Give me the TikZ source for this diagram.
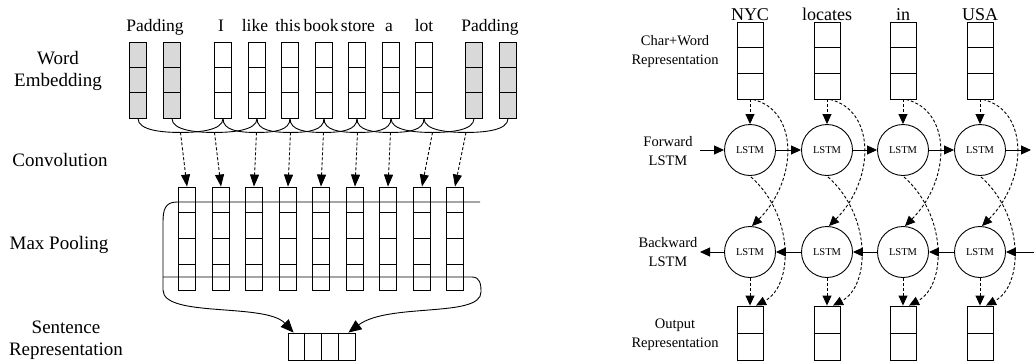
\documentclass[tikz,border=0pt]{standalone}
\usepackage{fontspec}
\setmainfont{Liberation Serif}
\usepackage{tikz}
\usetikzlibrary{arrows.meta,positioning,calc}
\definecolor{padgray}{RGB}{217,217,217}
\tikzset{
  vec/.style={draw,line width=0.9pt,inner sep=0pt,minimum width=17pt},
  embcol/.style={vec,minimum height=76pt},
  padcol/.style={embcol,fill=padgray},
  convcol/.style={vec,minimum height=103pt},
  reprcol/.style={vec,minimum width=26pt,minimum height=77pt},
  outcol/.style={vec,minimum width=26pt,minimum height=54pt},
  sentbox/.style={vec,minimum width=67pt,minimum height=27pt},
  lstm/.style={draw,circle,line width=0.9pt,minimum size=51pt,inner sep=0pt,
    font=\fontsize{10.5}{12}\selectfont},
  word/.style={anchor=base,font=\fontsize{17.5}{21}\selectfont},
  rowlabel/.style={align=center,font=\fontsize{19}{22}\selectfont},
  sidelabel/.style={align=center,font=\fontsize{14.5}{19}\selectfont},
  divider/.style={line width=0.9pt},
  window/.style={line width=0.9pt},
  feed/.style={line width=0.9pt,dash pattern=on 3pt off 2pt,-{Triangle[length=12pt,width=9pt]}},
  pool/.style={line width=0.9pt,-{Triangle[length=13pt,width=11pt]}},
  flow/.style={line width=0.9pt,-{Triangle[length=10pt,width=9pt]}},
  skip/.style={line width=0.9pt,dash pattern=on 3pt off 2pt,-{Triangle[length=10pt,width=9pt]}}
}

\begin{document}
\begin{tikzpicture}[x=1pt,y=-1pt]
  \useasboundingbox (0,0) rectangle (1034,362);

  % ---- left: CNN sentence encoder ----
  \node[rowlabel] (l-emb) at (58,71) {Word\\Embedding};
  \node[rowlabel] (l-conv) at (60,160) {Convolution};
  \node[rowlabel] (l-pool) at (59,245) {Max Pooling};
  \node[rowlabel] (l-sent) at (66,340) {Sentence\\Representation};

  \node[word] (t-pad1) at (155,31) {Padding};
  \foreach \w/\x in {I/221,like/255,this/288,book/321,store/358,a/389,lot/424}
    \node[word] (t-\w) at (\x,31) {\w};
  \node[word] (t-pad2) at (490,31) {Padding};

  \foreach \i/\x in {1/138,2/172,10/474,11/508}
    \node[padcol] (e\i) at (\x,80) {};
  \foreach \i/\x in {3/223,4/257,5/290,6/324,7/357,8/391,9/424}
    \node[embcol] (e\i) at (\x,80) {};
  \foreach \i in {1,...,11}
    \foreach \k in {1,2}
      \draw[divider] ($(e\i.north west)!\k/3!(e\i.south west)$) -- ($(e\i.north east)!\k/3!(e\i.south east)$);

  \foreach \i/\x in {1/187,2/221,3/254,4/288,5/321,6/355,7/388,8/422,9/455} {
    \node[convcol] (c\i) at (\x,238.5) {};
    \foreach \k in {1,2,3}
      \draw[divider] ($(c\i.north west)!\k/4!(c\i.south west)$) -- ($(c\i.north east)!\k/4!(c\i.south east)$);
  }

  % windows of three words
  \foreach \i [evaluate=\i as \j using int(\i+2)] in {1,...,9} {
    \coordinate (m\i) at ($(e\i.south)!0.5!(e\j.south)+(0,14)$);
    \draw[window] (e\i.south) .. controls +(0,12) and +(-18,0) .. (m\i)
      .. controls +(18,0) and +(0,12) .. (e\j.south);
    \draw[feed] (m\i) -- (c\i.north);
  }

  % max pooling
  \node[sentbox] (s) at (321.5,346.5) {};
  \foreach \k in {1,2,3}
    \draw[divider] ($(s.north west)!\k/4!(s.north east)$) -- ($(s.south west)!\k/4!(s.south east)$);
  \coordinate (mp-tl) at (177,202);
  \coordinate (mp-tr) at (480,202);
  \coordinate (mp-bl) at (163,277);
  \coordinate (mp-br) at (472,277);
  \draw[pool] (mp-tr) -- (mp-tl) .. controls +(-12,0) and +(0,-12) .. (163,222) -- (163,290)
    .. controls +(0,28) and +(-28,-30) .. ($(s.north west)+(6,0)$);
  \draw[pool] (mp-bl) -- (mp-br) .. controls +(8,0) and +(0,-8) .. (481,292)
    .. controls +(0,26) and +(40,-30) .. ($(s.north east)+(-7,0)$);

  % ---- right: BiLSTM tagger ----
  \node[sidelabel] (l-repr) at (675,52) {Char+Word\\Representation};
  \node[sidelabel] (l-fwd) at (668,151) {Forward\\LSTM};
  \node[sidelabel] (l-bwd) at (668,252) {Backward\\LSTM};
  \node[sidelabel] (l-out) at (675,335) {Output\\Representation};

  \foreach \i/\x/\w in {1/750/NYC,2/827/locates,3/903/in,4/980/USA} {
    \node[word,font=\fontsize{18}{21}\selectfont] (n\i) at (\x,20) {\w};
    \node[reprcol] (r\i) at (\x,60.5) {};
    \foreach \k in {1,2}
      \draw[divider] ($(r\i.north west)!\k/3!(r\i.south west)$) -- ($(r\i.north east)!\k/3!(r\i.south east)$);
    \node[lstm] (f\i) at (\x,150) {LSTM};
    \node[lstm] (b\i) at (\x,252) {LSTM};
    \node[outcol] (o\i) at (\x,333) {};
    \draw[divider] (o\i.west) -- (o\i.east);
  }

  \coordinate (f-in) at (700,150);
  \coordinate (f-out) at (1031,150);
  \coordinate (b-in) at (1034,252);
  \coordinate (b-out) at (700,252);
  \draw[flow] (f-in) -- (f1);
  \foreach \i/\j in {1/2,2/3,3/4} {
    \draw[flow] (f\i) -- (f\j);
    \draw[flow] (b\j) -- (b\i);
  }
  \draw[flow] (f4) -- (f-out);
  \draw[flow] (b-in) -- (b4);
  \draw[flow] (b1) -- (b-out);

  \foreach \i in {1,...,4} {
    \draw[skip] (r\i.south) -- (f\i.north);
    \draw[skip] (b\i.south) -- (o\i.north);
    \draw[skip] ($(r\i.south)+(3,0)$) .. controls +(46,11) and +(46,-46) .. ($(b\i.north)+(2,0)$);
    \draw[skip] ($(f\i.south)+(1,1)$) .. controls +(43,38) and +(38,-20) .. ($(o\i.north)+(6,0)$);
  }
\end{tikzpicture}
\end{document}
